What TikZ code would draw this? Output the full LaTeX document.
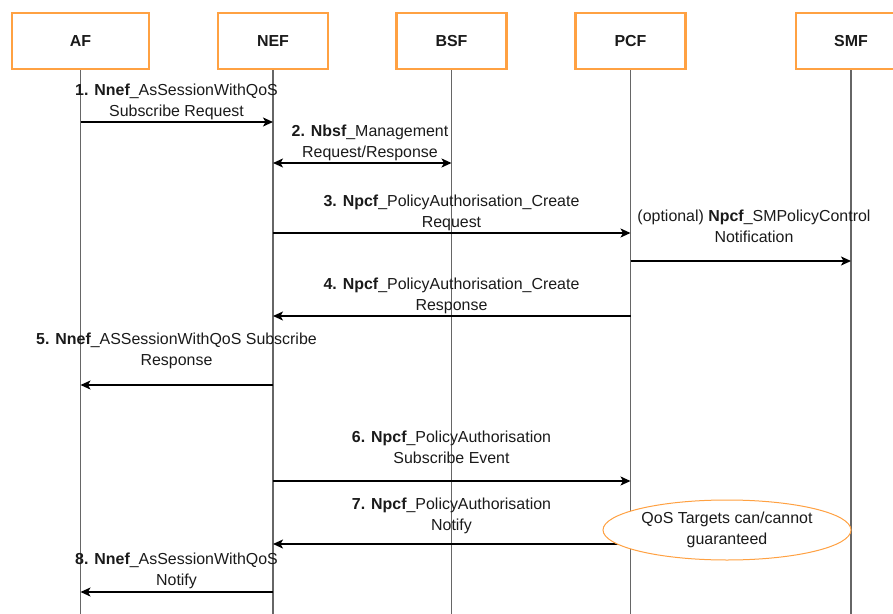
\documentclass[tikz,border=0pt]{standalone}
\usepackage{fontspec}
\setmainfont{Liberation Sans}
\usetikzlibrary{arrows.meta,shapes.geometric}
\definecolor{boxorange}{HTML}{FFA142}
\definecolor{lifegray}{HTML}{666666}
\definecolor{txt}{HTML}{1A1A1A}
\tikzset{
  entity/.style={draw=boxorange, line width=2.6bp, fill=white, minimum height=56bp,
    minimum width=110bp, inner sep=0pt, font=\fontsize{16}{21}\selectfont\bfseries, text=txt},
  lifeline/.style={draw=lifegray, line width=1.3bp},
  msg/.style={draw=black, line width=1.4bp, -{Stealth[length=10bp,width=9bp,inset=2.5bp]}},
  msgboth/.style={draw=black, line width=1.4bp, {Stealth[length=10bp,width=9bp,inset=2.5bp]}-{Stealth[length=10bp,width=9bp,inset=2.5bp]}},
  lbl/.style={align=center, inner sep=0pt, text=txt},
  note/.style={ellipse, draw=boxorange, line width=1bp, fill=white, minimum width=248bp,
    minimum height=60bp, inner sep=0pt, align=center, text=txt}
}
\begin{document}
\begin{tikzpicture}[x=1bp, y=-1bp, font=\fontsize{16}{21}\selectfont]
\useasboundingbox (0,0) rectangle (893,614);
\clip (0,0) rectangle (893,614);

% lifelines
\coordinate (afTop) at (80.5,69);   \coordinate (afBot) at (80.5,614);
\coordinate (nefTop) at (273,69);   \coordinate (nefBot) at (273,614);
\coordinate (bsfTop) at (451.5,69); \coordinate (bsfBot) at (451.5,614);
\coordinate (pcfTop) at (630.5,69); \coordinate (pcfBot) at (630.5,614);
\coordinate (smfTop) at (851,69);   \coordinate (smfBot) at (851,614);
\foreach \l in {af,nef,bsf,pcf,smf} \draw[lifeline] (\l Top) -- (\l Bot);

% participants
\node[entity, minimum width=137bp] (af) at (80.5,41) {AF};
\node[entity] (nef) at (273,41) {NEF};
\node[entity] (bsf) at (451.5,41) {BSF};
\node[entity] (pcf) at (630.5,41) {PCF};
\node[entity] (smf) at (851,41) {SMF};

% message end points
\coordinate (m1a) at (80.5,122);  \coordinate (m1b) at (273,122);
\coordinate (m2a) at (273,163);   \coordinate (m2b) at (451.5,163);
\coordinate (m3a) at (273,233);   \coordinate (m3b) at (630.5,233);
\coordinate (moa) at (630.5,261); \coordinate (mob) at (851,261);
\coordinate (m4a) at (630.5,316); \coordinate (m4b) at (273,316);
\coordinate (m5a) at (273,385);   \coordinate (m5b) at (80.5,385);
\coordinate (m6a) at (273,481);   \coordinate (m6b) at (630.5,481);
\coordinate (m7a) at (630.5,544); \coordinate (m7b) at (273,544);
\coordinate (m8a) at (273,592);   \coordinate (m8b) at (80.5,592);

\draw[msg] (m1a) -- (m1b);
\draw[msgboth] (m2a) -- (m2b);
\draw[msg] (m3a) -- (m3b);
\draw[msg] (moa) -- (mob);
\draw[msg] (m4a) -- (m4b);
\draw[msg] (m5a) -- (m5b);
\draw[msg] (m6a) -- (m6b);
\draw[msg] (m7a) -- (m7b);
\draw[msg] (m8a) -- (m8b);

% message labels
\node[lbl] (l1) at (176.5,101.5) {\textbf{1. Nnef}\_AsSessionWithQoS\\Subscribe Request};
\node[lbl] (l2) at (370,143) {\textbf{2. Nbsf}\_Management\\Request/Response};
\node[lbl] (l3) at (451.5,212.5) {\textbf{3. Npcf}\_PolicyAuthorisation\_Create\\Request};
\node[lbl] (lo) at (754,226) {(optional) \textbf{Npcf}\_SMPolicyControl\\Notification};
\node[lbl] (l4) at (451.5,295.5) {\textbf{4. Npcf}\_PolicyAuthorisation\_Create\\Response};
\node[lbl] (l5) at (176.5,350.5) {\textbf{5. Nnef}\_ASSessionWithQoS Subscribe\\Response};
\node[lbl] (l6) at (451.5,447.5) {\textbf{6. Npcf}\_PolicyAuthorisation\\Subscribe Event};
\node[lbl] (l7) at (451.5,516) {\textbf{7. Npcf}\_PolicyAuthorisation\\Notify};
\node[lbl] (l8) at (176.5,571) {\textbf{8. Nnef}\_AsSessionWithQoS\\Notify};

% outcome note on the PCF side
\node[note] (qos) at (727,530) {QoS Targets can/cannot\\guaranteed};
\end{tikzpicture}
\end{document}
